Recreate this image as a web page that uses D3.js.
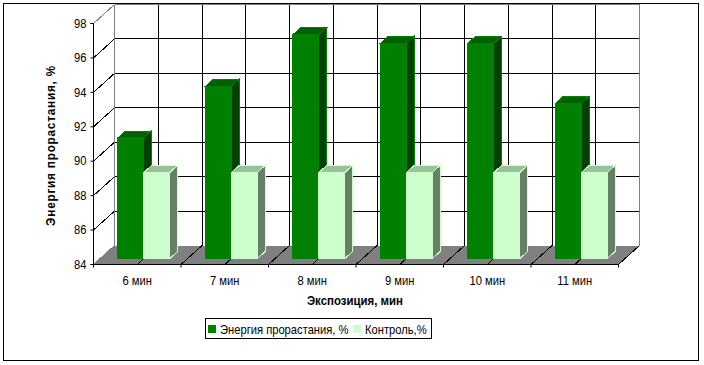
<!DOCTYPE html>
<html lang="ru">
  <head>
    <meta charset="utf-8" />
    <title>Энергия прорастания</title>
    <script src="https://d3js.org/d3.v7.js"></script>
    <style>
      body { margin: 0; background: #fff; }
      svg { display: block; }
      text { font-family: "Liberation Sans", Arial, sans-serif; fill: #000; }
    </style>
  </head>
  <body>
    <div id="graph"></div>
    <script>
    // chart data
    var categories = ["6 мин", "7 мин", "8 мин", "9 мин", "10 мин", "11 мин"];
    var energy = [91, 94, 97, 96.5, 96.5, 93];
    var control = [89, 89, 89, 89, 89, 89];
    var seriesNames = ["Энергия прорастания, %", "Контроль,%"];
    var yTicks = [84, 86, 88, 90, 92, 94, 96, 98];

    var w = 704, h = 365;
    var left = 93.5, right = 618.5, top0 = 23.5, bottom = 264.5;
    var depthX = 21, depthY = -19;   // offset of the back wall

    var svg = d3.select("#graph").append("svg")
      .attr("width", w)
      .attr("height", h);

    var x = d3.scaleBand().domain(categories).range([left, right])
      .paddingInner(0.406).paddingOuter(0.203);
    var inner = d3.scaleBand().domain([0, 1]).range([0, x.bandwidth()]);
    var y = d3.scaleLinear().domain([84, 98]).range([bottom, top0]);

    // project a point at a given depth (0 front, 1 back wall)
    function pt(px, value, depth) {
      return [px + depth * depthX, y(value) + depth * depthY];
    }
    function poly(points) { return points.map(p => p.join(",")).join(" "); }

    // squeeze text sideways, the reference font is tall and narrow
    function narrow(sel, factor) {
      sel.each(function () {
        d3.select(this)
          .attr("textLength", this.getComputedTextLength() * factor)
          .attr("lengthAdjust", "spacingAndGlyphs");
      });
    }

    // outer frame
    svg.append("rect")
      .attr("x", 3.5).attr("y", 3.5)
      .attr("width", 695).attr("height", 357)
      .attr("fill", "#fff").attr("stroke", "#000");

    var plot = svg.append("g").attr("shape-rendering", "crispEdges");

    // floor
    plot.append("polygon")
      .attr("points", poly([pt(left, 84, 0), pt(left, 84, 1), pt(right, 84, 1), pt(right, 84, 0)]))
      .attr("fill", "#808080");

    // back wall and side wall gridlines
    var wallLines = svg.append("g").attr("fill", "none").attr("shape-rendering", "crispEdges");
    yTicks.slice(1).forEach(function (t) {
      var col = t === 98 ? "#808080" : "#000";
      var a = pt(left, t, 0), b = pt(left, t, 1), c = pt(right, t, 1);
      wallLines.append("path")
        .attr("d", d3.line()([a, b])).attr("stroke", col);
      wallLines.append("path")
        .attr("d", d3.line()([b, c])).attr("stroke", col);
    });

    // vertical lines at every half category
    var halfStep = x.step() / 2;
    d3.range(0, categories.length * 2 + 1).forEach(function (k) {
      var px = left + k * halfStep;
      var edge = k === 0 || k === categories.length * 2;
      wallLines.append("path")
        .attr("d", d3.line()([pt(px, 84, 1), pt(px, 98, 1)]))
        .attr("stroke", edge ? "#808080" : "#000");
      wallLines.append("path")
        .attr("d", d3.line()([pt(px, 84, 0), pt(px, 84, 1)]))
        .attr("stroke", k === 0 ? "#808080" : "#000");
    });

    // bars: depth band inside the floor
    var d0 = 0.32, d1 = 0.68;
    var barStyles = [
      { front: "#008000", side: "#004000", top: "#006000", edge: "#008000" },
      { front: "#CCFFCC", side: "#668066", top: "#99C099", edge: "#CCFFCC" }
    ];

    function drawBar(g, x0, x1, value, s) {
      g.append("polygon")
        .attr("points", poly([pt(x1, 84, d0), pt(x1, 84, d1), pt(x1, value, d1), pt(x1, value, d0)]))
        .attr("fill", s.side).attr("stroke", s.edge);
      g.append("polygon")
        .attr("points", poly([pt(x0, value, d0), pt(x0, value, d1), pt(x1, value, d1), pt(x1, value, d0)]))
        .attr("fill", s.top).attr("stroke", s.edge);
      g.append("polygon")
        .attr("points", poly([pt(x0, 84, d0), pt(x0, value, d0), pt(x1, value, d0), pt(x1, 84, d0)]))
        .attr("fill", s.front).attr("stroke", s.edge);
    }

    var bars = svg.append("g").attr("shape-rendering", "crispEdges");
    categories.forEach(function (c, i) {
      [energy[i], control[i]].forEach(function (v, j) {
        var x0 = x(c) + inner(j);
        drawBar(bars, x0, x0 + inner.bandwidth(), v, barStyles[j]);
      });
    });

    // axes
    var yAxis = svg.append("g")
      .attr("transform", `translate(${left},0)`)
      .call(d3.axisLeft(y).tickValues(yTicks).tickSize(3).tickPadding(4).offset(0));
    var xAxis = svg.append("g")
      .attr("transform", `translate(0,${bottom})`)
      .call(d3.axisBottom(x).tickSize(0).tickPadding(11).offset(0));

    xAxis.selectAll(".tick line").remove();
    d3.range(0, categories.length + 1).forEach(function (k) {
      xAxis.append("line")
        .attr("x1", left + k * x.step()).attr("x2", left + k * x.step())
        .attr("y1", 0).attr("y2", 3)
        .attr("stroke", "#000");
    });

    svg.selectAll(".domain").attr("stroke", "#000");
    svg.selectAll(".tick text")
      .attr("font-size", 13)
      .style("font-family", '"Liberation Sans", Arial, sans-serif')
      .call(narrow, 0.86);

    // axis titles
    svg.append("text")
      .attr("transform", "translate(55,145.5) rotate(-90)")
      .attr("text-anchor", "middle")
      .attr("font-size", 13)
      .attr("font-weight", "bold")
      .attr("letter-spacing", 0.9)
      .text(seriesNames[0])
      .call(narrow, 0.9);

    svg.append("text")
      .attr("x", 355).attr("y", 305)
      .attr("text-anchor", "middle")
      .attr("font-size", 13)
      .attr("font-weight", "bold")
      .text("Экспозиция, мин")
      .call(narrow, 0.88);

    // legend
    var legend = svg.append("g");
    legend.append("rect")
      .attr("x", 205.5).attr("y", 318.5)
      .attr("width", 226).attr("height", 20)
      .attr("fill", "#fff").attr("stroke", "#000");
    var legendX = [208, 353];
    seriesNames.forEach(function (name, i) {
      legend.append("rect")
        .attr("x", legendX[i]).attr("y", 325)
        .attr("width", 8).attr("height", 8)
        .attr("fill", barStyles[i].front);
      legend.append("text")
        .attr("x", legendX[i] + 12).attr("y", 334)
        .attr("font-size", 13)
        .text(name)
        .call(narrow, 0.86);
    });
    </script>
  </body>
</html>
